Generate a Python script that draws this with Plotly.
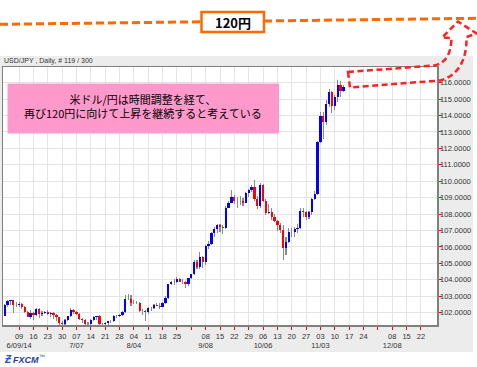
import numpy as np
import pandas as pd
import plotly.graph_objects as go

W, H = 477, 367

# ---------------- data (USD/JPY daily, 2014-06-02 .. 2014-11-13, 119 bars) ----------------
dates = pd.bdate_range("2014-06-02", "2014-11-13")

opens = [101.82, 102.46, 102.71, 102.77, 102.45, 102.46, 102.53, 102.33, 102.06, 101.75,
         102.00, 101.83, 102.24, 101.93, 101.99, 102.05, 101.92, 101.96, 101.85, 101.71,
         101.37, 101.32, 101.55, 101.77, 102.19, 102.05, 101.92, 101.62, 101.58, 101.30,
         101.33, 101.57, 101.72, 101.78, 101.30, 101.34, 101.36, 101.48, 101.50, 101.79,
         101.82, 101.85, 102.07, 102.81, 102.82, 102.58, 102.60, 102.58, 102.10, 102.10,
         102.03, 102.27, 102.27, 102.46, 102.41, 102.35, 102.60, 102.90, 103.75, 103.86,
         103.84, 104.07, 103.89, 103.86, 103.72, 104.09, 104.33, 105.07, 104.78, 105.39,
         105.09, 106.06, 106.18, 106.86, 107.11, 107.35, 107.20, 107.17, 108.40, 108.69,
         109.01, 108.82, 108.80, 108.77, 108.69, 109.29, 109.44, 109.65, 108.89, 108.48,
         109.76, 108.82, 108.08, 108.10, 107.85, 107.57, 107.35, 107.02, 105.96, 106.31,
         106.88, 106.94, 107.11, 107.14, 108.21, 108.14, 107.83, 108.13, 108.91, 109.24,
         112.36, 113.95, 113.59, 114.68, 115.41, 114.59, 115.10, 115.84, 115.50]
highs = [102.52, 102.79, 102.80, 102.80, 102.68, 102.67, 102.61, 102.42, 102.12, 102.15,
         102.03, 102.29, 102.28, 102.08, 102.12, 102.14, 102.02, 102.03, 101.89, 101.75,
         101.47, 101.60, 101.79, 102.27, 102.25, 102.10, 101.98, 101.68, 101.63, 101.42,
         101.62, 101.82, 101.80, 101.83, 101.40, 101.44, 101.51, 101.58, 101.84, 101.86,
         101.95, 102.12, 103.09, 103.15, 103.05, 102.75, 102.73, 102.62, 102.22, 102.14,
         102.35, 102.36, 102.55, 102.60, 102.56, 102.66, 102.99, 103.77, 103.91, 104.06,
         104.18, 104.12, 104.05, 103.92, 104.14, 104.37, 105.21, 105.20, 105.71, 105.42,
         106.14, 106.39, 106.89, 107.21, 107.39, 107.38, 107.32, 108.49, 108.82, 109.46,
         109.16, 109.04, 109.07, 109.00, 109.34, 109.51, 109.80, 110.09, 109.10, 109.89,
         109.86, 108.94, 108.60, 108.37, 108.02, 107.61, 107.43, 107.36, 106.60, 107.13,
         107.16, 107.24, 107.40, 108.34, 108.36, 108.19, 108.19, 109.00, 109.38, 112.47,
         114.20, 114.21, 114.96, 115.59, 115.48, 115.25, 116.15, 116.12, 115.85]
lows = [101.79, 102.33, 102.45, 101.98, 102.33, 102.34, 102.24, 101.97, 101.72, 101.60,
        101.58, 101.80, 101.66, 101.77, 101.91, 101.83, 101.76, 101.60, 101.49, 101.23,
        101.23, 101.24, 101.51, 101.71, 101.95, 101.83, 101.55, 101.40, 101.07, 101.20,
        101.28, 101.47, 101.58, 101.13, 101.10, 101.20, 101.25, 101.40, 101.44, 101.69,
        101.75, 101.80, 102.00, 102.75, 102.40, 102.53, 102.51, 102.05, 101.86, 101.52,
        101.95, 102.11, 102.21, 102.38, 102.20, 102.35, 102.52, 102.85, 103.66, 103.66,
        103.80, 103.87, 103.75, 103.49, 103.65, 104.02, 104.30, 104.66, 104.65, 104.69,
        104.88, 105.88, 106.11, 106.60, 106.84, 106.89, 106.81, 107.07, 108.36, 108.65,
        108.62, 108.35, 108.58, 108.52, 108.69, 109.04, 109.32, 108.82, 108.33, 108.36,
        108.74, 107.96, 107.98, 107.62, 107.51, 106.95, 106.85, 105.23, 105.48, 106.25,
        106.58, 106.59, 106.85, 107.10, 107.85, 107.67, 107.68, 107.95, 108.88, 109.15,
        112.31, 112.58, 113.40, 114.53, 114.14, 114.32, 114.82, 115.12, 115.40]
closes = [102.46, 102.71, 102.77, 102.45, 102.46, 102.53, 102.33, 102.06, 101.75, 102.00,
          101.83, 102.24, 101.93, 101.99, 102.05, 101.92, 101.96, 101.85, 101.71, 101.37,
          101.32, 101.55, 101.77, 102.19, 102.05, 101.92, 101.62, 101.58, 101.30, 101.33,
          101.57, 101.72, 101.78, 101.30, 101.34, 101.36, 101.48, 101.50, 101.79, 101.82,
          101.85, 102.07, 102.81, 102.82, 102.58, 102.60, 102.58, 102.10, 102.10, 102.03,
          102.27, 102.27, 102.46, 102.41, 102.35, 102.60, 102.90, 103.75, 103.86, 103.84,
          104.07, 103.89, 103.86, 103.72, 104.09, 104.33, 105.07, 104.78, 105.39, 105.09,
          106.06, 106.18, 106.86, 107.11, 107.35, 107.20, 107.17, 108.40, 108.69, 109.01,
          108.82, 108.80, 108.77, 108.69, 109.29, 109.44, 109.65, 108.89, 108.48, 109.76,
          108.82, 108.08, 108.10, 107.85, 107.57, 107.35, 107.02, 105.96, 106.31, 106.88,
          106.94, 107.11, 107.14, 108.21, 108.14, 107.83, 108.13, 108.91, 109.24, 112.36,
          113.95, 113.59, 114.68, 115.41, 114.59, 115.10, 115.84, 115.50, 115.72]

# labelled weekly ticks (Mondays) and unlabelled month-start gridlines
tick_dates = ["2014-06-09", "2014-06-16", "2014-06-23", "2014-06-30", "2014-07-07",
              "2014-07-14", "2014-07-21", "2014-07-28", "2014-08-04", "2014-08-11",
              "2014-08-18", "2014-08-25", "2014-09-08", "2014-09-15", "2014-09-22",
              "2014-09-29", "2014-10-06", "2014-10-13", "2014-10-20", "2014-10-27",
              "2014-11-03", "2014-11-10", "2014-11-17", "2014-11-24", "2014-12-08",
              "2014-12-15", "2014-12-22"]
tick_labels = ["09<br>6/09/14", "16", "23", "30", "07<br>7/07", "14", "21", "28",
               "04<br>8/04", "11", "18", "25", "08<br>9/08", "15", "22", "29",
               "06<br>10/06", "13", "20", "27", "03<br>11/03", "10", "17", "24",
               "08<br>12/08", "15", "22"]
unlabelled_dates = ["2014-09-01", "2014-12-01"]
y_ticks = list(range(102, 117))

title_text = "USD/JPY , Daily, # 119 / 300"
comment_lines = ["米ドル/円は時間調整を経て、", "再び120円に向けて上昇を継続すると考えている"]
target_label = "120円"

# ---------------- derived ----------------
o = np.array(opens); h = np.array(highs); l = np.array(lows); c = np.array(closes)
origin = np.datetime64("2014-06-09")
xd = np.busday_count(origin, dates.values.astype("datetime64[D]"))
tick_x = np.busday_count(origin, np.array(tick_dates, dtype="datetime64[D]"))
minor_x = np.busday_count(origin, np.array(unlabelled_dates, dtype="datetime64[D]"))
body_base = np.minimum(o, c)
body_h = np.abs(c - o)
body_col = np.where(c >= o, "#0000ff", "#ff0000")


def px(x):
    return x / W


def py(y):
    return 1 - y / H


fig = go.Figure()
fig.add_trace(go.Bar(x=xd, y=h - l, base=l, width=0.38, marker=dict(color="#8a8a8a", line=dict(width=0)),
                     hoverinfo="skip"))
fig.add_trace(go.Bar(x=xd, y=body_h, base=body_base, width=0.78,
                     marker=dict(color=body_col.tolist(), line=dict(width=0)), hoverinfo="skip"))

axfont = dict(family="Arial, Liberation Sans, sans-serif", size=7.5, color="#333333")
grid = "#e4e4e4"

fig.update_layout(
    width=W, height=H, margin=dict(l=0, r=0, t=0, b=0),
    paper_bgcolor="white", plot_bgcolor="white",
    showlegend=False, barmode="overlay", bargap=0, hovermode=False,
    xaxis=dict(domain=[px(3), px(437)], range=[-5.6, 145.6], tickmode="array",
               tickvals=tick_x, ticktext=tick_labels, ticks="outside", ticklen=3,
               tickcolor="#ff0000", tickangle=0, showgrid=True, gridcolor=grid, gridwidth=1,
               minor=dict(tickmode="array", tickvals=minor_x, showgrid=True, gridcolor=grid,
                          gridwidth=1, ticks="outside", ticklen=3, tickcolor="#ff0000"),
               showline=True, mirror=True, linecolor="#808080", linewidth=1.5,
               zeroline=False, tickfont=axfont, automargin=False, fixedrange=True),
    yaxis=dict(domain=[py(325), py(67)], range=[101.25, 116.95], side="right",
               tickmode="array", tickvals=y_ticks, tickformat=".4f", ticks="outside",
               ticklen=3, tickcolor="#ff0000", ticklabelstandoff=-3, showgrid=True, gridcolor=grid,
               gridwidth=1, showline=True, mirror=True, linecolor="#808080",
               linewidth=1.5, zeroline=False, tickfont=axfont, automargin=False,
               fixedrange=True),
)

shapes = [
    # gray chart panel
    dict(type="rect", xref="paper", yref="paper", x0=px(0), x1=px(473), y0=py(352), y1=py(56),
         fillcolor="#ececec", line=dict(width=0), layer="below"),
    # white plot area
    dict(type="rect", xref="paper", yref="paper", x0=px(3), x1=px(437), y0=py(325), y1=py(67),
         fillcolor="white", line=dict(width=0), layer="below"),
    # orange 120 yen dashed line
    dict(type="line", xref="paper", yref="paper", x0=0, y0=py(24.3), x1=1, y1=py(18.3),
         line=dict(color="#ff6a00", width=3, dash="8px,4px"), layer="above"),
    # 120 yen box
    dict(type="rect", xref="paper", yref="paper", x0=px(201.5), x1=px(264), y0=py(32), y1=py(12),
         fillcolor="white", line=dict(color="#ff6a00", width=2.5), layer="above"),
    # pink comment box
    dict(type="rect", xref="paper", yref="paper", x0=px(7.5), x1=px(279), y0=py(133.5), y1=py(83.5),
         fillcolor="#ff99cc", line=dict(width=0), layer="above"),
]

path = (f"M {px(348)},{py(72)} L {px(434)},{py(65.5)} "
        f"C {px(446)},{py(63)} {px(451)},{py(54)} {px(451.5)},{py(38)} "
        f"L {px(442)},{py(37.5)} L {px(458)},{py(21.5)} L {px(476.5)},{py(33.5)} "
        f"L {px(466.5)},{py(37)} C {px(467)},{py(60)} {px(458)},{py(76)} {px(440)},{py(80.5)} "
        f"L {px(350)},{py(87.5)} Z")
shapes.append(dict(type="path", xref="paper", yref="paper", path=path,
                   fillcolor="rgba(0,0,0,0)", line=dict(color="#ff2020", width=2.5, dash="6px,3.5px"),
                   layer="above"))
fig.update_layout(shapes=shapes)

jp = "Noto Sans CJK JP, sans-serif"
anns = [
    dict(text=title_text, x=px(2), y=py(61.5), xanchor="left", yanchor="middle",
         font=dict(family="Arial, Liberation Sans, sans-serif", size=7, color="#333333")),
    dict(text="<br>".join(comment_lines), x=px(143), y=py(106), xanchor="center",
         yanchor="middle", align="center", font=dict(family=jp, size=11, color="black")),
    dict(text="<b>" + target_label + "</b>", x=px(232.7), y=py(22.3), xanchor="center",
         yanchor="middle", font=dict(family=jp, size=13, color="black")),
    dict(text="<b><i>Ƶ</i></b>", x=px(2), y=py(359), xanchor="left", yanchor="middle",
         font=dict(family="Arial, Liberation Sans, sans-serif", size=10, color="#1f5bb5")),
    dict(text="<b><i>FXCM</i></b><sup>™</sup>", x=px(11), y=py(359), xanchor="left",
         yanchor="middle", font=dict(family="Arial, Liberation Sans, sans-serif", size=9,
                                     color="#1d3f8f")),
]
for a in anns:
    a.update(xref="paper", yref="paper", showarrow=False)
fig.update_layout(annotations=anns)

fig.write_html("out.html", config={"displayModeBar": False, "staticPlot": True},
               post_script="document.body.style.margin='0';document.body.style.overflow='hidden';")
